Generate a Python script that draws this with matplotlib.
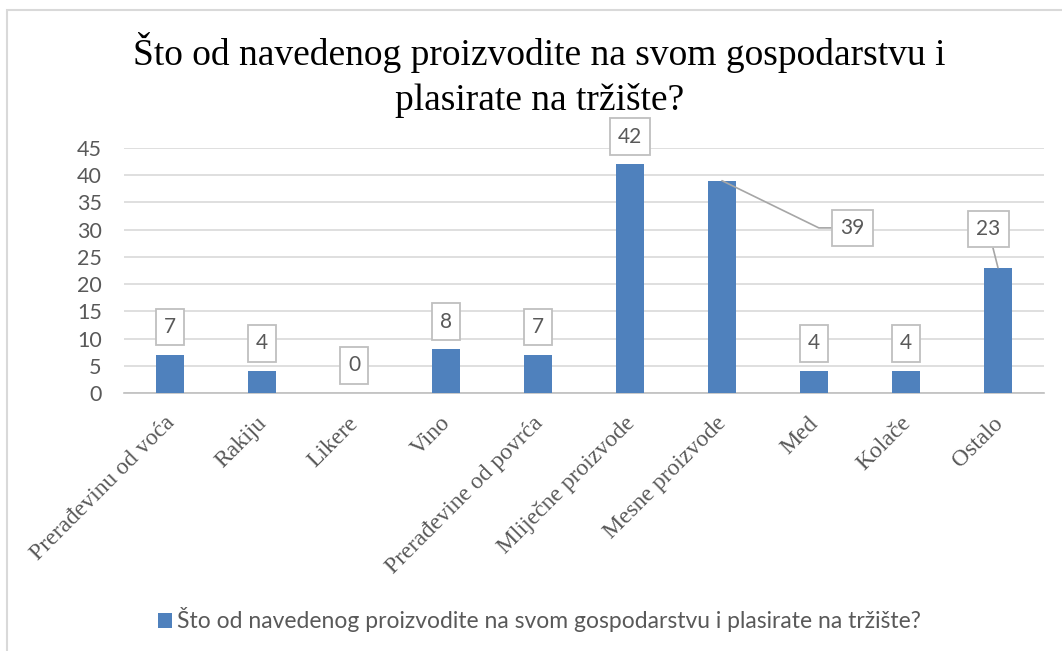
import matplotlib
matplotlib.use("Agg")
import matplotlib.pyplot as plt
from matplotlib.patches import Rectangle
from matplotlib.transforms import ScaledTranslation

title = "Što od navedenog proizvodite na svom gospodarstvu i\nplasirate na tržište?"
categories = ["Prerađevinu od voća", "Rakiju", "Likere", "Vino",
              "Prerađevine od povrća", "Mliječne proizvode", "Mesne proizvode",
              "Med", "Kolače", "Ostalo"]
values = [7, 4, 0, 8, 7, 42, 39, 4, 4, 23]
yticks = [0, 5, 10, 15, 20, 25, 30, 35, 40, 45]

bar_color = "#4F81BD"
txt_color = "#595959"
grid_color = "#D9D9D9"
sans = "Lato"
serif = "Liberation Serif"

fig = plt.figure(figsize=(10.62, 6.51), dpi=100)
ax = fig.add_axes([124 / 1062, 1 - 393 / 651, 920 / 1062, 245 / 651])

x = list(range(len(categories)))
ax.bar(x, values, width=0.313, color=bar_color, zorder=3,
       label=title.replace("\n", " "))

ax.set_xlim(-0.5, len(categories) - 0.5)
ax.set_ylim(0, 45)
ax.yaxis.grid(True, color=grid_color, linewidth=1.2, zorder=0)
ax.tick_params(length=0)
for s in ["top", "right", "left"]:
    ax.spines[s].set_visible(False)
ax.spines["bottom"].set_color("#BFBFBF")
ax.spines["bottom"].set_linewidth(1.2)

ax.set_yticks(yticks)
ax.set_yticklabels([str(t) for t in yticks], fontfamily=sans, fontsize=15.5,
                   color=txt_color)
ax.tick_params(axis="y", pad=16)
ax.set_xticks(x)
ax.set_xticklabels(categories, rotation=45, ha="right", rotation_mode="anchor",
                   fontfamily=serif, fontsize=17, color=txt_color)
ax.tick_params(axis="x", pad=12)
shift = ScaledTranslation(-6 / 100, -3 / 100, fig.dpi_scale_trans)
for lab in ax.get_xticklabels():
    lab.set_transform(lab.get_transform() + shift)

box = dict(boxstyle="square,pad=0.4", fc="white", ec="#BFBFBF", lw=1.3)
lbl = dict(textcoords="offset points", ha="center", va="center",
           fontfamily=sans, fontsize=15, color=txt_color, bbox=box, zorder=5)
for i, v in enumerate(values):
    if i == 6:
        ax.annotate(str(v), xy=(i, v), xytext=(94, -34), **lbl,
                    arrowprops=dict(arrowstyle="-", color="#A6A6A6", lw=1.2,
                                    connectionstyle="angle,angleA=0,angleB=-26,rad=0",
                                    shrinkA=0, shrinkB=0, relpos=(0, 0.5)))
    elif i == 9:
        ax.annotate(str(v), xy=(i, v), xytext=(-7, 28), **lbl,
                    arrowprops=dict(arrowstyle="-", color="#A6A6A6", lw=1.2,
                                    shrinkA=0, shrinkB=0, relpos=(0.6, 0)))
    else:
        ax.annotate(str(v), xy=(i, v), xytext=(0, 20), **lbl)

fig.text(0.508, 1 - 75 / 651, title, ha="center", va="center",
         fontfamily=serif, fontsize=27, color="black", linespacing=1.35)

leg = fig.legend(loc="center", bbox_to_anchor=(0.508, 1 - 620 / 651),
                 frameon=False, prop={"family": sans, "size": 16.5},
                 handlelength=0.6, handleheight=0.6, handletextpad=0.25)
for t in leg.get_texts():
    t.set_color(txt_color)

fig.patches.append(Rectangle((7 / 1062, -0.05), 1.2, 1.05 - 10 / 651,
                             transform=fig.transFigure, fill=False,
                             ec="#D9D9D9", lw=1.5))

fig.savefig("out.png", dpi=100)
